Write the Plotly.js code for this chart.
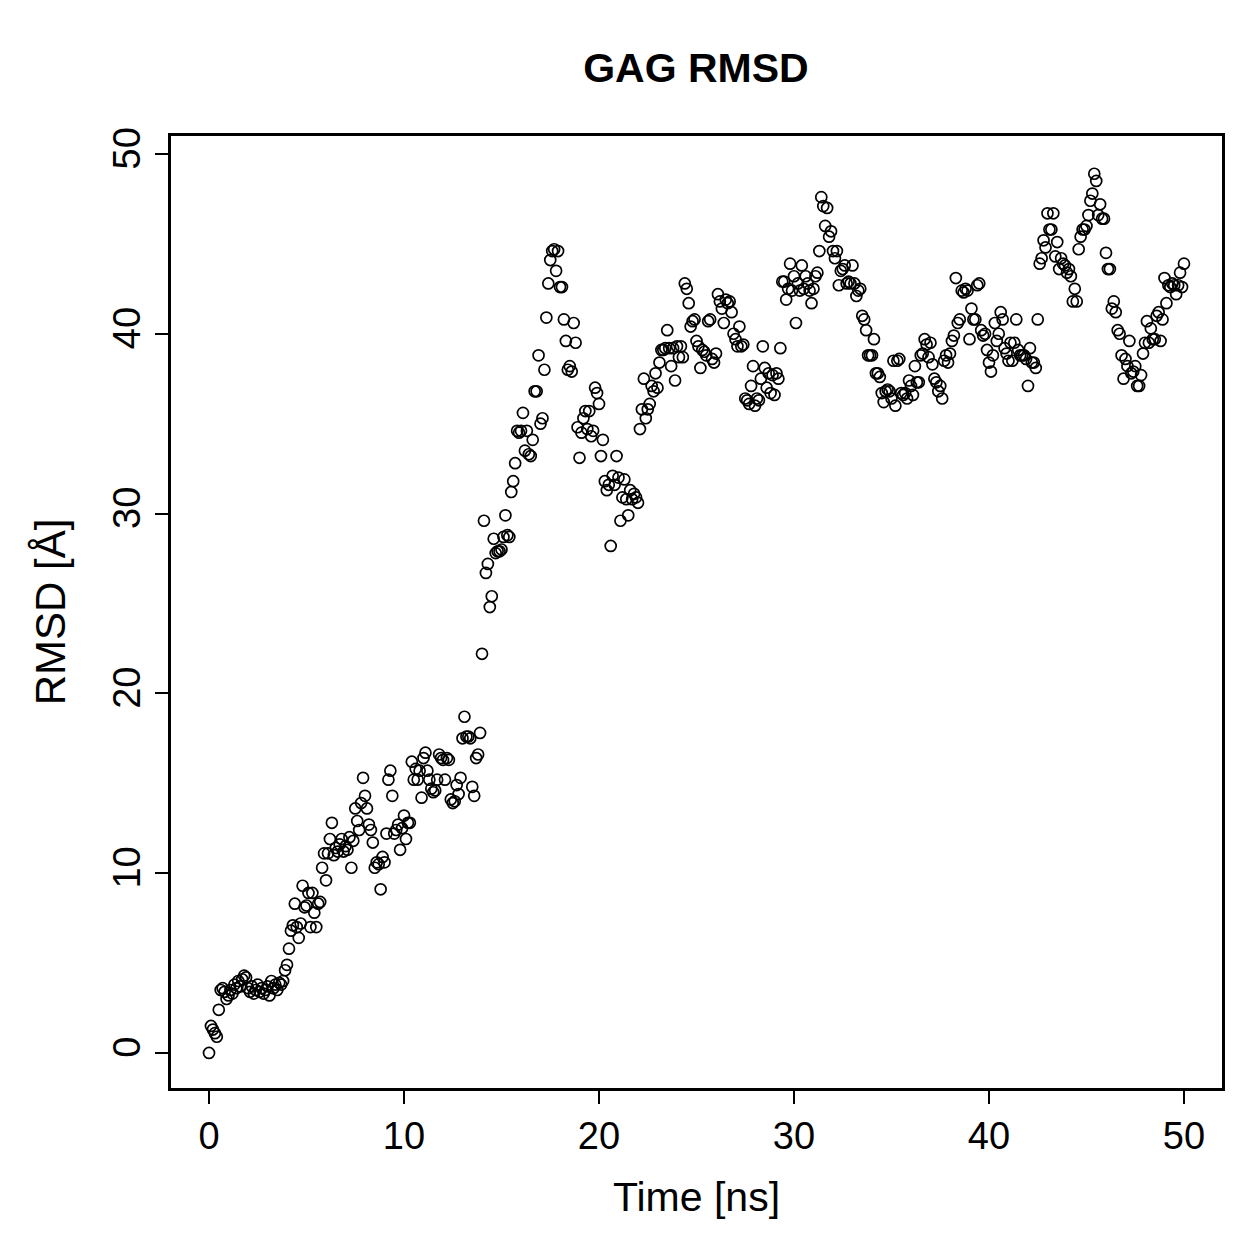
<!DOCTYPE html>
<html>
<head>
<meta charset="utf-8">
<script src="https://cdn.plot.ly/plotly-3.0.1.min.js"></script>
<style>html,body{margin:0;padding:0;background:#fff;}#chart{width:1259px;height:1259px;}</style>
</head>
<body>
<div id="chart"></div>
<script>
// RMSD [Å] sampled every 0.1 ns from 0 to 50 ns
const timeStart = 0;
const timeStep = 0.1;
const rmsd = [
  0.0,1.5,1.3,1.1,0.9,2.4,3.5,3.6,3.4,3.0,
  3.2,3.5,3.3,3.8,3.6,4.0,3.7,4.1,4.3,4.2,
  3.6,3.4,3.7,3.3,3.5,3.8,3.4,3.6,3.3,3.5,
  3.7,3.2,4.0,3.6,3.8,3.5,3.9,3.8,4.0,4.6,
  4.9,5.8,6.8,7.1,8.3,7.0,6.4,7.2,9.3,8.1,
  8.2,8.9,7.0,8.9,7.8,7.0,8.3,8.4,10.3,11.1,
  9.6,11.1,11.9,12.8,11.0,11.4,11.2,11.6,11.9,11.2,
  11.5,11.3,12.0,10.3,11.8,13.6,12.9,12.4,13.9,15.3,
  14.3,13.6,12.7,12.4,11.7,10.3,10.6,10.5,9.1,10.9,
  10.6,12.2,15.2,15.7,14.3,12.2,12.4,12.7,11.3,12.5,
  13.2,11.9,12.8,12.8,16.2,15.2,15.8,15.2,15.7,14.2,
  16.4,16.7,15.7,15.2,14.7,14.5,14.6,15.2,16.6,16.4,
  16.3,15.2,16.4,16.3,14.1,13.9,14.0,14.9,14.4,15.3,
  17.5,18.7,17.6,17.6,17.5,14.8,14.3,16.4,16.6,17.8,
  22.2,29.6,26.7,27.2,24.8,25.4,28.6,27.8,27.9,27.9,
  28.0,28.7,29.9,28.8,28.7,31.2,31.8,32.8,34.6,34.5,
  34.6,35.6,33.5,34.6,33.3,33.2,34.1,36.8,36.8,38.8,
  35.0,35.3,38.0,40.9,42.8,44.1,44.6,44.7,43.5,44.6,
  42.6,42.6,40.8,39.6,38.0,38.2,37.9,40.6,39.5,34.8,
  33.1,34.5,35.3,35.7,34.7,35.7,34.3,34.6,37.0,36.7,
  36.1,33.2,34.1,31.8,31.3,31.6,28.2,32.1,31.6,33.2,
  32.0,29.6,30.9,31.9,30.8,29.9,31.3,30.8,31.1,30.9,
  30.6,34.7,35.8,37.5,35.3,35.8,36.1,37.1,36.8,37.8,
  37.0,38.4,39.1,39.1,39.2,40.2,39.2,38.2,39.2,37.4,
  39.3,38.7,39.3,38.7,42.8,42.5,41.7,40.4,40.7,40.8,
  39.6,39.3,38.1,39.1,39.0,38.8,40.7,40.8,38.6,38.4,38.9,
  42.2,41.8,41.4,40.6,41.9,41.7,41.8,41.2,40.0,39.7,
  39.3,40.4,39.3,39.4,36.4,36.3,36.1,37.1,38.2,36.0,
  36.4,36.3,37.5,39.3,38.1,37.0,37.8,36.7,37.7,36.6,37.8,
  37.5,39.2,42.9,42.9,41.9,42.5,43.9,42.4,43.2,40.6,
  42.8,42.4,43.8,42.5,43.2,42.8,42.4,41.7,42.5,43.2,43.4,
  44.6,47.6,47.1,46.0,47.0,45.4,45.7,44.6,44.2,44.6,
  42.7,43.5,43.6,43.8,42.8,42.9,42.8,43.8,42.8,42.1,
  42.4,42.5,41.0,40.8,40.2,38.8,38.8,38.8,39.7,37.8,
  37.8,37.6,36.7,36.2,36.8,36.9,36.8,36.4,38.5,36.0,
  38.5,38.6,36.7,36.6,36.7,36.4,37.4,37.1,36.6,38.2,
  37.3,37.3,38.8,38.9,39.7,39.4,38.7,39.5,38.3,37.5,
  37.3,36.8,37.1,36.4,38.5,38.8,38.4,38.9,39.6,39.9,
  43.1,40.6,40.8,42.4,42.3,42.5,42.4,39.7,41.4,40.8,
  40.8,42.7,42.8,40.2,39.9,40.0,39.1,38.4,37.9,38.8,
  40.6,39.6,40.0,41.2,40.8,39.2,38.9,38.5,39.5,38.5,
  39.5,40.8,39.1,38.8,38.8,38.8,38.6,37.1,39.2,38.4,
  38.4,38.1,40.8,43.9,44.2,45.2,44.8,46.7,45.8,45.8,
  46.7,44.3,45.1,43.6,44.2,43.9,43.8,43.4,
  43.6,43.2,41.8,42.5,41.8,44.7,45.4,45.8,45.8,
  46.0,46.6,47.4,47.8,48.9,48.5,46.6,47.2,46.4,46.4,
  44.5,43.6,43.6,41.4,41.8,41.2,40.2,40.0,38.8,37.5,
  38.6,38.2,39.6,37.8,37.9,38.2,37.1,37.1,37.7,38.9,
  39.5,40.7,39.5,40.3,39.7,39.7,41.0,41.2,39.6,40.8,
  43.1,41.7,42.7,42.6,42.8,42.7,42.2,42.7,43.4,42.6,
  43.9
];
const time = rmsd.map((_, i) => +(timeStart + i * timeStep).toFixed(1));
const xTicks = [0, 10, 20, 30, 40, 50];
const yTicks = [0, 10, 20, 30, 40, 50];

const font = 'Liberation Sans, Arial, Helvetica, sans-serif';
const trace = {
  x: time, y: rmsd, type: 'scatter', mode: 'markers',
  marker: {symbol: 'circle-open', size: 11, color: '#000', line: {width: 1.7, color: '#000'}},
  hoverinfo: 'x+y'
};
const axisCommon = {
  showgrid: false, zeroline: false, showline: true, mirror: true,
  linecolor: '#000', linewidth: 2.5, ticks: 'outside', ticklen: 13, tickwidth: 2.2,
  tickcolor: '#000', tickmode: 'array', tickfont: {family: font, size: 38, color: '#000'}
};
const layout = {
  width: 1259, height: 1259,
  margin: {l: 171, r: 37, t: 136, b: 171},
  paper_bgcolor: '#fff', plot_bgcolor: '#fff',
  showlegend: false,
  title: {text: '<b>GAG RMSD</b>', font: {family: font, size: 41, color: '#000'},
          x: 0.5528, xanchor: 'center', y: 0.946, yanchor: 'middle'},
  xaxis: Object.assign({}, axisCommon, {
    range: [-1.95, 51.95], tickvals: xTicks, ticktext: xTicks.map(String),
    title: {text: 'Time [ns]', font: {family: font, size: 41, color: '#000'}, standoff: 26}
  }),
  yaxis: Object.assign({}, axisCommon, {
    range: [-1.95, 51.0], tickvals: yTicks, ticktext: yTicks.map(String), tickangle: -90,
    title: {text: 'RMSD [Å]', font: {family: font, size: 42, color: '#000'}, standoff: 28}
  })
};
Plotly.newPlot('chart', [trace], layout, {displayModeBar: false, responsive: false});
</script>
</body>
</html>
